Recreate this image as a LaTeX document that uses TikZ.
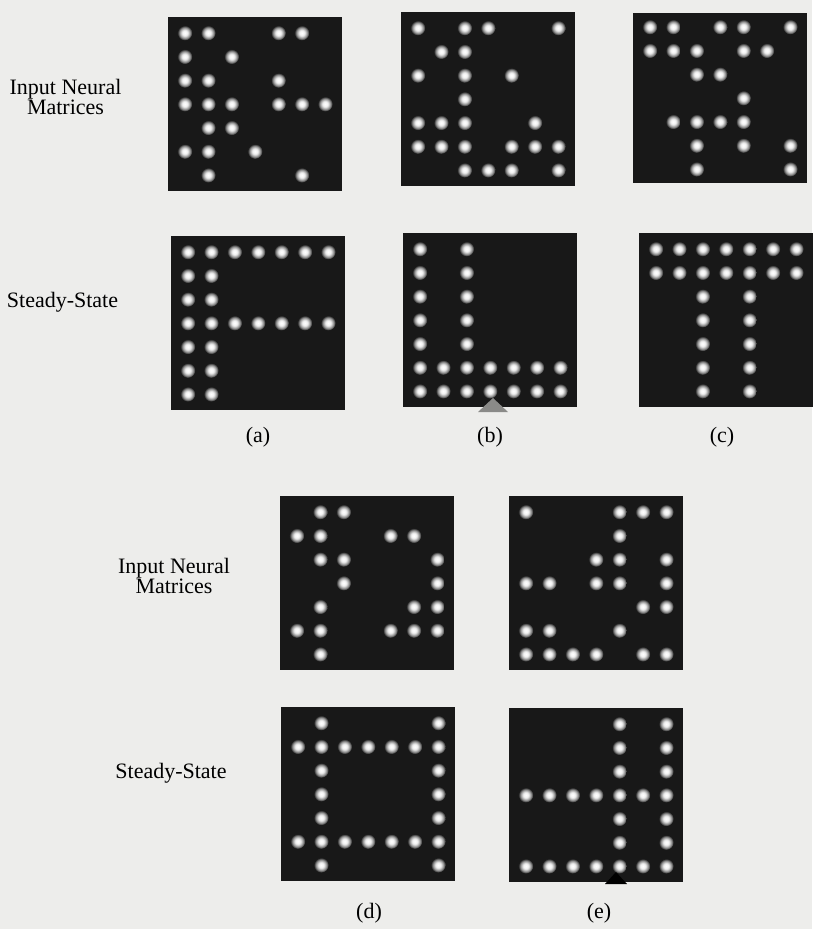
\documentclass[tikz,border=0pt]{standalone}
\usepackage{fontspec}
\setmainfont{Liberation Serif}
\usetikzlibrary{positioning, calc}
\definecolor{cpaper}{HTML}{EDEDEB}
\definecolor{cmat}{HTML}{181818}
\definecolor{cgrey}{HTML}{8A8A88}
\pgfdeclareradialshading{neuron}{\pgfpoint{0bp}{0bp}}{%
  color(0bp)=(white); color(9bp)=(white!94!black);
  color(18bp)=(white!50!cmat); color(25bp)=(cmat); color(50bp)=(cmat)}
\tikzset{
  every picture/.style={font=\fontsize{22}{20}\selectfont},
  mat/.style={fill=cmat, minimum width=174pt, minimum height=174pt, inner sep=0pt},
  lbl/.style={align=center, inner sep=0pt},
  captext/.style={inner sep=0pt},
}
% one lit neuron per (row, column) of the 7x7 grid
\newcommand{\neurons}[2]{%
  \foreach \r/\cs in {#2}
    \foreach \c in \cs
      \shade[shading=neuron] ($(#1.center)+({(\c-4)*23.4},{(\r-4)*23.7})$) circle (7.5);}

\begin{document}
\begin{tikzpicture}[x=1pt, y=-1pt]
  \fill[cpaper] (0,0) rectangle (812,929);
  \useasboundingbox (0,0) rectangle (812,929);

  % row labels
  \node[lbl] (inlabA) at (65.5,97) {Input Neural\\Matrices};
  \node[lbl] (sslabA) at (62.5,302) {Steady-State};
  \node[lbl] (inlabB) at (174,576) {Input Neural\\Matrices};
  \node[lbl] (sslabB) at (171,773) {Steady-State};

  % upper group
  \node[mat] (ina) at (255,104) {};
  \node[mat] (inb) at (488,99) {};
  \node[mat, minimum height=170pt] (inc) at (720,98) {};
  \node[mat] (ssa) at (258,323) {};
  \node[mat] (ssb) at (490,320) {};
  \node[mat] (ssc) at (726,320) {};
  \fill[cgrey] (478,412) -- (493,398) -- (508,412) -- cycle;

  \neurons{ina}{1/{1,2,5,6}, 2/{1,3}, 3/{1,2,5}, 4/{1,2,3,5,6,7}, 5/{2,3}, 6/{1,2,4}, 7/{2,6}}
  \neurons{inb}{1/{1,3,4,7}, 2/{2,3}, 3/{1,3,5}, 4/{3}, 5/{1,2,3,6}, 6/{1,2,3,5,6,7}, 7/{3,4,5,7}}
  \neurons{inc}{1/{1,2,4,5,7}, 2/{1,2,3,5,6}, 3/{3,4}, 4/{5}, 5/{2,3,4,5}, 6/{3,5,7}, 7/{3,7}}
  \neurons{ssa}{1/{1,...,7}, 2/{1,2}, 3/{1,2}, 4/{1,...,7}, 5/{1,2}, 6/{1,2}, 7/{1,2}}
  \neurons{ssb}{1/{1,3}, 2/{1,3}, 3/{1,3}, 4/{1,3}, 5/{1,3}, 6/{1,...,7}, 7/{1,...,7}}
  \neurons{ssc}{1/{1,...,7}, 2/{1,...,7}, 3/{3,5}, 4/{3,5}, 5/{3,5}, 6/{3,5}, 7/{3,5}}

  \node[captext] (capa) at (258,437) {(a)};
  \node[captext] (capb) at (490,437) {(b)};
  \node[captext] (capc) at (722,437) {(c)};

  % lower group
  \node[mat] (ind) at (367,583) {};
  \node[mat] (ine) at (596,583) {};
  \node[mat] (ssd) at (368,794) {};
  \node[mat] (sse) at (596,795) {};

  \neurons{ind}{1/{2,3}, 2/{1,2,5,6}, 3/{2,3,7}, 4/{3,7}, 5/{2,6,7}, 6/{1,2,5,6,7}, 7/{2}}
  \neurons{ine}{1/{1,5,6,7}, 2/{5}, 3/{4,5,7}, 4/{1,2,4,5,7}, 5/{6,7}, 6/{1,2,5}, 7/{1,2,3,4,6,7}}
  \neurons{ssd}{1/{2,7}, 2/{1,...,7}, 3/{2,7}, 4/{2,7}, 5/{2,7}, 6/{1,...,7}, 7/{2,7}}
  \neurons{sse}{1/{5,7}, 2/{5,7}, 3/{5,7}, 4/{1,...,7}, 5/{5,7}, 6/{5,7}, 7/{1,...,7}}
  \fill[black] (605,884) -- (616,872) -- (627,884) -- cycle;

  \node[captext] (capd) at (369,913) {(d)};
  \node[captext] (cape) at (599,913) {(e)};
\end{tikzpicture}
\end{document}
